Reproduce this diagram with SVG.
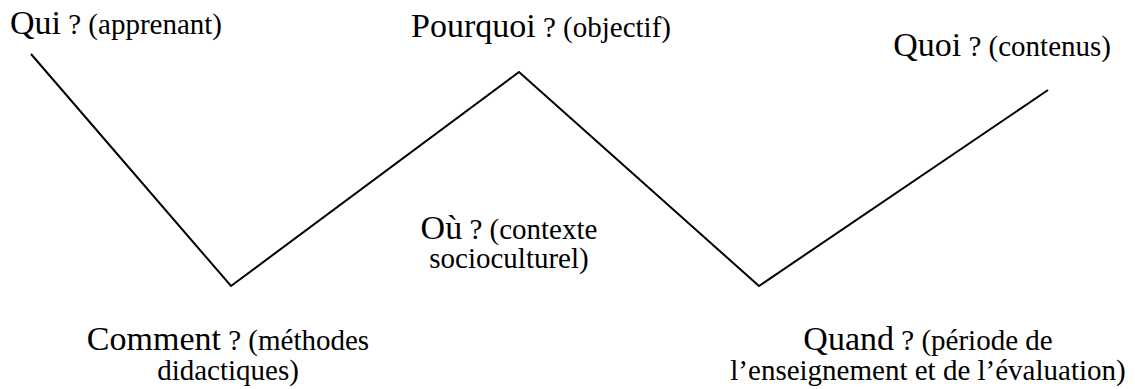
<svg xmlns="http://www.w3.org/2000/svg" width="1135" height="389" viewBox="0 0 1135 389" font-family="'Liberation Serif', 'Times New Roman', serif">
<style>
text{font-family:"Liberation Serif","Times New Roman",serif;fill:#000;font-size:29px}
.b{font-size:34px}
.c{text-anchor:middle}
.w{fill:none;stroke:#000;stroke-width:2;stroke-linejoin:miter}
</style>
<rect width="1135" height="389" fill="#fff"/>
<g id="connectors">
<polyline class="w" points="31,54 231,286 519,72 759,286 1048,90"/>
</g>
<g id="qui"><text x="10" y="34"><tspan class="b">Qui</tspan> ? (apprenant)</text></g>
<g id="pourquoi"><text x="411" y="37"><tspan class="b">Pourquoi</tspan> ? (objectif)</text></g>
<g id="quoi"><text x="1111" y="56" style="text-anchor:end"><tspan class="b">Quoi</tspan> ? (contenus)</text></g>
<g id="ou"><text class="c" x="509" y="239"><tspan class="b">Où</tspan> ? (contexte</text><text class="c" x="509" y="268">socioculturel)</text></g>
<g id="comment"><text class="c" x="228" y="350"><tspan class="b">Comment</tspan> ? (méthodes</text><text class="c" x="228" y="380">didactiques)</text></g>
<g id="quand"><text class="c" x="928" y="350"><tspan class="b">Quand</tspan> ? (période de</text><text class="c" x="928" y="380">l’enseignement et de l’évaluation)</text></g>
</svg>
